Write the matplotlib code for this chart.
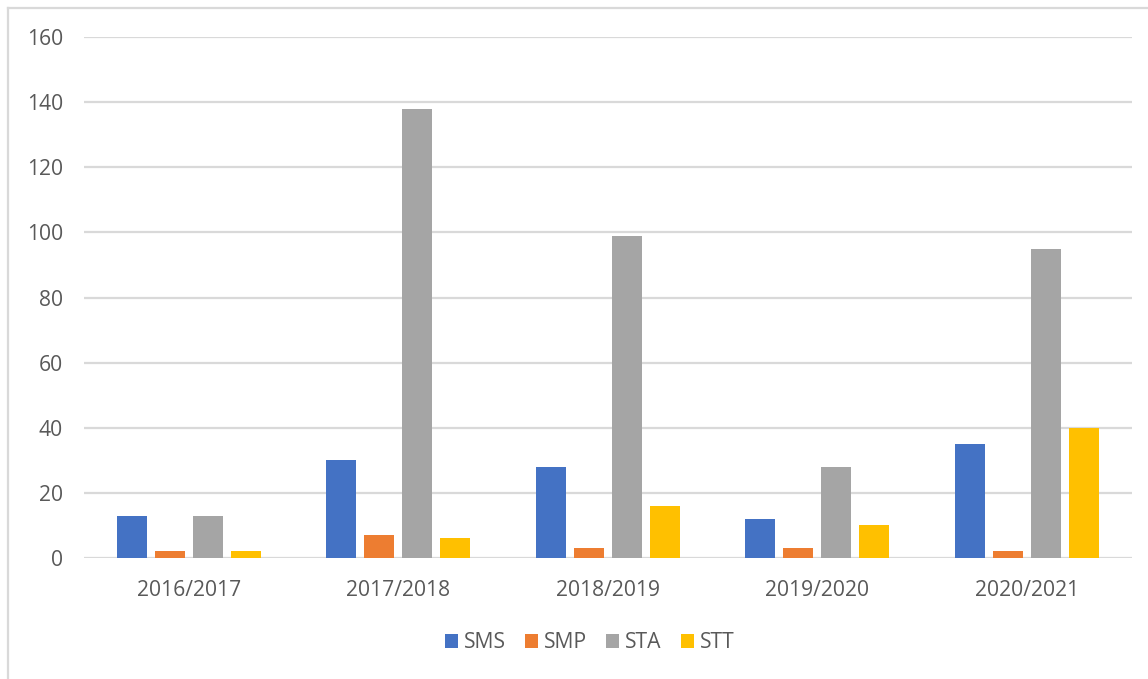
import numpy as np
import matplotlib.pyplot as plt
from matplotlib.lines import Line2D

seasons = ["2016/2017", "2017/2018", "2018/2019", "2019/2020", "2020/2021"]
sms = [13, 30, 28, 12, 35]
smp = [2, 7, 3, 3, 2]
sta = [13, 138, 99, 28, 95]
stt = [2, 6, 16, 10, 40]
series_names = ["SMS", "SMP", "STA", "STT"]
yticks = [0, 20, 40, 60, 80, 100, 120, 140, 160]

colors = ["#4472C4", "#ED7D31", "#A5A5A5", "#FFC000"]
text_color = "#595959"
grid_color = "#D9D9D9"

plt.rcParams["font.family"] = ["Open Sans", "DejaVu Sans"]

W, H = 1148, 679
fig = plt.figure(figsize=(W / 100, H / 100), dpi=100)
ax = fig.add_axes([84 / W, 121 / H, (1131.5 - 84) / W, (558 - 37) / H])

x = np.arange(len(seasons))
bar_w = 30 / 209.5
pitch = 38 / 209.5
for i, (name, vals) in enumerate(zip(series_names, [sms, smp, sta, stt])):
    offs = (i - 1.5) * pitch
    ax.bar(x + offs, vals, width=bar_w, color=colors[i], label=name, zorder=3)

ax.set_xlim(-0.5, len(seasons) - 0.5)
ax.set_ylim(0, 160)
ax.set_yticks(yticks)
ax.set_yticklabels([str(v) for v in yticks])
ax.set_xticks(x)
ax.set_xticklabels(seasons)
ax.tick_params(axis="both", length=0, labelsize=15.2, colors=text_color)
ax.tick_params(axis="y", pad=15)
ax.tick_params(axis="x", pad=16)
ax.grid(axis="y", color=grid_color, linewidth=1.6, zorder=0)
for s in ax.spines.values():
    s.set_visible(False)

leg = ax.legend(loc="center", bbox_to_anchor=(0.483, -0.163), ncol=4, frameon=False,
                fontsize=15.2, handlelength=0.6, handleheight=0.6, handletextpad=0.3,
                columnspacing=0.9, labelcolor=text_color)

# Chart area border (top and left edges)
fig.add_artist(Line2D([8 / W, 1.0], [1 - 8 / H, 1 - 8 / H], color=grid_color, lw=1.6,
                      transform=fig.transFigure))
fig.add_artist(Line2D([8 / W, 8 / W], [0, 1 - 8 / H], color=grid_color, lw=1.6,
                      transform=fig.transFigure))

fig.savefig("out.png", dpi=100, facecolor="white")
